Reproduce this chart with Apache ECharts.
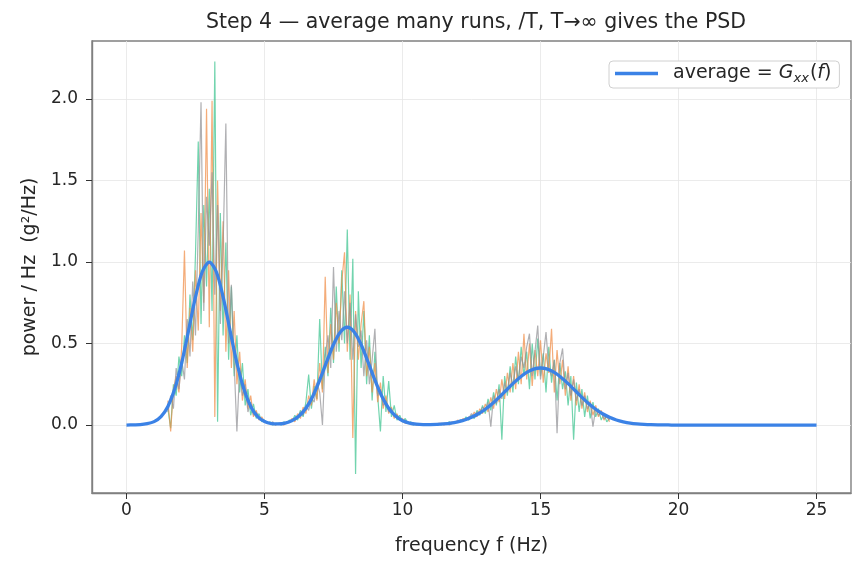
<!DOCTYPE html>
<html>
<head>
<meta charset="utf-8">
<script src="https://cdn.jsdelivr.net/npm/echarts@6/dist/echarts.min.js"></script>
<style>html,body{margin:0;padding:0;background:#fff}#c{width:865px;height:567px}</style>
</head>
<body>
<div id="c"></div>
<script>
// ---- data ----
const titleText = 'Step 4 \u2014 average many runs, /T, T\u2192\u221e gives the PSD';
const xTicks = [0, 5, 10, 15, 20, 25];
const yTicks = [0, 0.5, 1.0, 1.5, 2.0];

// average curve G_xx(f), sampled every 0.25 Hz from 0 Hz to 25 Hz
const avgStart = 0, avgStep = 0.25;
const avgValues = [
  0.000,0.001,0.002,0.008,0.021,0.052,0.114,0.222,0.381,0.581,0.786,0.942,
  1.000,0.942,0.786,0.581,0.381,0.222,0.114,0.052,0.022,0.009,0.007,0.012,
  0.027,0.055,0.103,0.177,0.275,0.387,0.494,0.571,0.600,0.571,0.494,0.387,
  0.275,0.177,0.103,0.055,0.026,0.012,0.005,0.003,0.003,0.004,0.007,0.012,
  0.020,0.031,0.047,0.069,0.097,0.131,0.170,0.212,0.254,0.292,0.323,0.343,
  0.350,0.343,0.323,0.292,0.254,0.212,0.170,0.131,0.097,0.069,0.047,0.031,
  0.020,0.012,0.007,0.004,0.002,0.001,0.001,0,0,0,0,0,
  0,0,0,0,0,0,0,0,0,0,0,0,0,0,0,0,0
];

// individual runs, sampled every 0.1 Hz from 1.5 Hz to 17.5 Hz
const runStart = 1.5, runStep = 0.1;
const runGreen = [
  0.10,-0.02,0.25,0.18,0.42,
  0.30,0.55,0.38,0.80,0.52,1.05,1.74,0.62,1.35,0.85,
  1.45,0.70,2.23,0.02,1.30,0.55,1.12,0.40,0.85,0.30,
  0.55,0.20,0.38,0.12,0.22,0.06,0.13,0.04,0.07,0.02,
  0.03,0.01,0.02,0.00,0.01,0.01,0.00,0.02,0.01,0.03,
  0.02,0.06,0.03,0.09,0.05,0.14,0.31,0.10,0.24,0.16,
  0.65,0.22,0.48,0.30,0.72,0.38,0.85,0.45,0.95,0.50,
  1.20,0.40,1.02,-0.30,0.82,0.35,0.70,0.25,0.55,0.15,
  0.45,0.18,-0.04,0.30,0.08,0.27,0.05,0.12,0.03,0.06,
  0.02,0.04,0.01,0.02,0.00,0.01,0.00,0.01,0.00,0.00,
  0.00,0.01,0.00,0.01,0.00,0.01,0.01,0.02,0.01,0.02,
  0.02,0.03,0.02,0.05,0.03,0.06,0.04,0.09,0.06,0.12,
  0.07,0.16,0.09,0.20,0.12,0.25,-0.09,0.30,0.18,0.36,
  0.20,0.42,0.25,0.48,0.30,0.45,0.22,0.50,0.28,0.53,
  0.30,0.44,0.20,0.48,0.26,0.40,0.15,0.38,0.22,0.33,
  0.12,0.30,-0.09,0.26,0.08,0.22,0.05,0.18,0.04,0.14,
  0.05,0.10,0.03,0.07,0.02,0.04
];
const runOrange = [
  0.15,-0.04,0.22,0.30,0.20,
  0.48,1.07,0.35,0.72,0.45,0.95,0.58,1.30,0.75,1.94,
  0.60,1.99,0.05,1.50,0.70,1.25,0.45,0.95,0.35,0.70,
  0.25,0.45,0.15,0.28,0.10,0.18,0.05,0.09,0.03,0.05,
  0.02,0.02,0.01,0.01,0.00,0.01,0.01,0.00,0.02,0.02,
  0.04,0.02,0.07,0.04,0.11,0.07,0.18,0.12,0.28,0.15,
  0.38,0.20,0.91,0.32,0.62,0.40,0.75,0.50,0.88,1.06,
  0.45,0.80,-0.08,0.70,0.40,0.62,0.76,0.30,0.48,0.20,
  0.38,0.14,0.26,0.10,0.18,0.07,0.11,0.04,0.07,0.03,
  0.04,0.01,0.02,0.01,0.01,0.00,0.01,0.00,0.00,0.00,
  0.01,0.00,0.00,0.01,0.01,0.00,0.01,0.01,0.02,0.01,
  0.03,0.02,0.04,0.03,0.05,0.04,0.08,0.05,0.10,0.07,
  0.13,0.08,0.17,0.10,0.22,0.14,0.28,0.16,0.32,0.20,
  0.38,0.22,0.45,0.25,0.56,0.28,0.50,0.24,0.46,0.30,
  0.52,0.26,0.44,0.32,0.59,0.20,0.46,0.25,0.40,0.18,
  0.36,0.15,0.30,0.12,0.25,0.10,0.20,0.08,0.15,0.06,
  0.12,0.05,0.09,0.03,0.06,0.02
];
const runGray = [
  0.08,0.18,0.10,0.35,0.22,
  0.40,0.28,0.65,0.42,0.88,0.55,1.20,1.98,0.70,1.40,
  1.10,1.55,0.80,1.35,0.62,1.10,1.85,0.50,0.86,0.38,
  -0.04,0.35,0.18,0.25,0.08,0.14,0.06,0.08,0.04,0.03,
  0.02,0.01,0.01,0.02,0.00,0.01,0.01,0.01,0.01,0.02,
  0.03,0.04,0.05,0.08,0.06,0.12,0.09,0.17,0.14,0.26,
  0.20,0.00,0.42,0.55,0.35,0.97,0.45,0.70,0.52,0.82,
  0.50,0.75,0.40,0.68,0.48,0.58,0.30,0.52,0.25,0.40,
  0.59,0.18,0.22,0.12,0.15,0.08,0.10,0.05,0.06,0.04,
  0.02,0.03,0.01,0.01,0.01,0.00,0.00,0.01,0.00,0.00,
  0.00,0.00,0.01,0.00,0.01,0.01,0.01,0.00,0.01,0.02,
  0.02,0.03,0.03,0.04,0.04,0.07,0.05,0.08,0.07,0.11,
  0.09,0.14,-0.01,0.18,0.13,0.22,0.16,0.26,0.20,0.32,
  0.24,0.36,0.28,0.42,0.35,0.48,0.56,0.30,0.45,0.61,
  0.28,0.42,0.57,0.35,0.30,0.40,-0.05,0.38,0.47,0.22,
  0.32,0.18,0.28,0.15,0.22,0.12,0.18,0.10,0.14,-0.01,
  0.10,0.06,0.08,0.04,0.05,0.03
];

// ---- build ----
function pairs(start, step, vals) {
  return vals.map((v, i) => [+(start + i * step).toFixed(3), v]);
}
const font = '"DejaVu Sans", sans-serif';
const textColor = '#262626';
const frameColor = '#808080';

const chart = echarts.init(document.getElementById('c'), null, {renderer: 'canvas'});
function runSeries(name, color, vals) {
  return {
    name: name, type: 'line', data: pairs(runStart, runStep, vals),
    showSymbol: false, symbol: 'none', silent: true, z: 2,
    lineStyle: {color: color, width: 1.2, opacity: 0.72}
  };
}
chart.setOption({
  animation: false,
  backgroundColor: '#ffffff',
  title: {
    text: titleText, left: 471, top: 7, textAlign: 'center',
    textStyle: {fontFamily: font, fontSize: 20.5, fontWeight: 'normal', color: textColor}
  },
  grid: {left: 92, right: 14, top: 41, bottom: 74, show: true, borderColor: frameColor, borderWidth: 1.4, backgroundColor: 'transparent'},
  legend: {
    data: [{name: 'average', icon: 'rect'}], left: 609, top: 61, orient: 'horizontal',
    backgroundColor: '#fff', borderColor: '#d0d0d0', borderWidth: 1, borderRadius: 4,
    padding: [3, 8, 3, 6], itemWidth: 43, itemHeight: 3.5, itemGap: 10,
    itemStyle: {color: '#3b82e6', borderWidth: 0},
    formatter: () => '{p|average = }{i|G}{s|xx}{n|(}{i|f}{n|)}',
    textStyle: {
      fontFamily: font, fontSize: 19, color: textColor,
      rich: {
        p: {fontFamily: font, fontSize: 19, color: textColor, padding: [0, 0, 0, 10]},
        n: {fontFamily: font, fontSize: 19, color: textColor},
        i: {fontFamily: font, fontSize: 19, fontStyle: 'italic', color: textColor},
        s: {fontFamily: font, fontSize: 13, fontStyle: 'italic', color: textColor, padding: [10, 1, 0, 0]}
      }
    }
  },
  xAxis: {
    type: 'value', min: -1.25, max: 26.25,
    name: 'frequency f (Hz)', nameLocation: 'middle', nameGap: 44,
    nameTextStyle: {fontFamily: font, fontSize: 19, color: textColor},
    axisLine: {show: true, onZero: false, lineStyle: {color: frameColor, width: 1.4}},
    axisTick: {show: true, length: 6, lineStyle: {color: '#333'}, customValues: xTicks},
    axisLabel: {fontFamily: font, fontSize: 17, color: textColor, margin: 9, customValues: xTicks},
    splitLine: {show: true, lineStyle: {color: '#e6e6e6', width: 0.8}}
  },
  yAxis: {
    type: 'value', min: -0.417, max: 2.356,
    name: 'power / Hz  (g\u00b2/Hz)', nameLocation: 'middle', nameGap: 52,
    nameTextStyle: {fontFamily: font, fontSize: 19, color: textColor},
    axisLine: {show: true, onZero: false, lineStyle: {color: frameColor, width: 1.4}},
    axisTick: {show: true, length: 6, lineStyle: {color: '#333'}, customValues: yTicks},
    axisLabel: {fontFamily: font, fontSize: 17, color: textColor, margin: 14, customValues: yTicks,
      formatter: v => v.toFixed(1)},
    splitLine: {show: true, lineStyle: {color: '#e6e6e6', width: 0.8}}
  },
  series: [
    runSeries('run 1', '#3cc48f', runGreen),
    runSeries('run 2', '#f08c45', runOrange),
    runSeries('run 3', '#929296', runGray),
    {
      name: 'average', type: 'line', data: pairs(avgStart, avgStep, avgValues),
      showSymbol: false, symbol: 'none', smooth: 0.3, z: 5,
      lineStyle: {color: '#3b82e6', width: 3.3},
      itemStyle: {color: '#3b82e6'}
    }
  ]
});
</script>
</body>
</html>
